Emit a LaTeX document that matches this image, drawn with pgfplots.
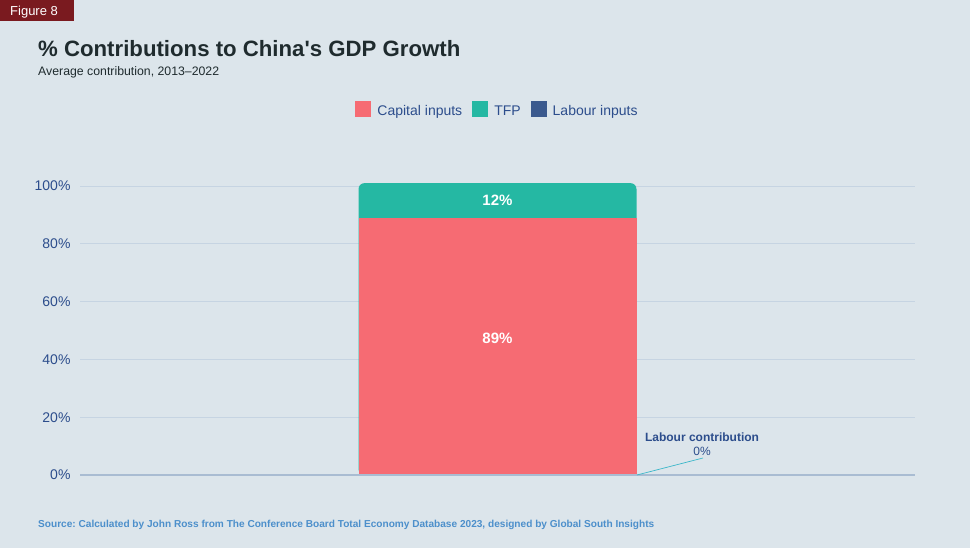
\documentclass[border=0pt]{standalone}
\usepackage{pgfplots}
\usepackage{pgfplotstable}
\pgfplotsset{compat=1.18}
\usepackage{fontspec}
\setmainfont{Liberation Sans}[Ligatures=TeXOff]
\frenchspacing
\definecolor{bg}{HTML}{DCE5EB}
\definecolor{figred}{HTML}{7A1A1F}
\definecolor{titlec}{HTML}{1F2B2E}
\definecolor{capc}{HTML}{F66B73}
\definecolor{tfpc}{HTML}{25B8A3}
\definecolor{labc}{HTML}{3B5A8E}
\definecolor{txtblue}{HTML}{2C4D8C}
\definecolor{gridc}{HTML}{C6D4E2}
\definecolor{zeroc}{HTML}{A9BCD2}
\definecolor{srcc}{HTML}{4C8FCB}
\definecolor{leadc}{HTML}{3BB7C9}
\pgfplotstableread{
x cap tfp lab
0 89 12 0
}\datatable
\begin{document}
\begin{tikzpicture}[x=1pt,y=1pt]
\fill[bg] (0,0) rectangle (970,548);
\fill[figred] (0,527) rectangle (74,548);
\node[anchor=base west, text=white, font=\fontsize{13}{15}\selectfont, inner sep=0] at (10,532.5) {Figure 8};
\node[anchor=base west, font=\fontsize{22.2}{26}\selectfont\bfseries, text=titlec, inner sep=0] at (38,491) {\% Contributions to China's GDP Growth};
\node[anchor=base west, font=\fontsize{12.3}{14}\selectfont, text=titlec, inner sep=0] at (38,472) {Average contribution, 2013–2022};
\node[anchor=base west, font=\fontsize{10.1}{12}\selectfont\bfseries, text=srcc, inner sep=0] at (38,20) {Source: Calculated by John Ross from The Conference Board Total Economy Database 2023, designed by Global South Insights};
\begin{axis}[
  at={(80pt,73pt)}, anchor=south west,
  scale only axis, width=835pt, height=289pt,
  xmin=-1, xmax=1, ymin=0, ymax=100,
  clip=false,
  ybar, bar width=278pt, bar shift=0pt,
  axis line style={draw=none},
  xtick=\empty,
  ytick={0,20,40,60,80,100},
  yticklabel={\pgfmathprintnumber{\tick}\%},
  /pgf/number format/assume math mode=true,
  major tick length=0pt,
  ymajorgrids,
  grid style={gridc, line width=0.8pt},
  yticklabel style={font=\fontsize{14}{16}\selectfont, text=txtblue, xshift=-6pt},
  legend style={at={(0.5,1.263)}, anchor=center, draw=none, fill=none,
    font=\fontsize{14}{16}\selectfont, text=txtblue, legend columns=3,
    /tikz/every odd column/.append style={column sep=4pt},
    /tikz/every even column/.append style={column sep=8pt}},
  legend image code/.code={\fill[#1] (0pt,-5pt) rectangle (16pt,11pt);},
]
\addplot[fill=tfpc, draw=none, rounded corners=6pt, forget plot] table[x=x, y expr=\thisrow{cap}+\thisrow{tfp}] {\datatable};
\addplot[fill=capc, draw=none, forget plot] table[x=x, y=cap] {\datatable};
\addplot[fill=labc, draw=none, forget plot] table[x=x, y=lab] {\datatable};
\addlegendimage{fill=capc, draw=none}
\addlegendentry{Capital inputs}
\addlegendimage{fill=tfpc, draw=none}
\addlegendentry{TFP}
\addlegendimage{fill=labc, draw=none}
\addlegendentry{Labour inputs}
\draw[zeroc, line width=1.2pt] (rel axis cs:0,0) -- (rel axis cs:1,0);
\node[text=white, font=\fontsize{15}{17}\selectfont\bfseries] at (axis cs:0,47.4) {89\%};
\node[text=white, font=\fontsize{15}{17}\selectfont\bfseries] at (axis cs:0,95) {12\%};
\end{axis}
\draw[leadc, line width=0.7pt] (637,73) -- (703,90);
\node[text=txtblue, font=\fontsize{12}{14}\selectfont\bfseries, inner sep=0] at (702,111) {Labour contribution};
\node[text=txtblue, font=\fontsize{12}{14}\selectfont, inner sep=0] at (702,97) {0\%};
\end{tikzpicture}
\end{document}
